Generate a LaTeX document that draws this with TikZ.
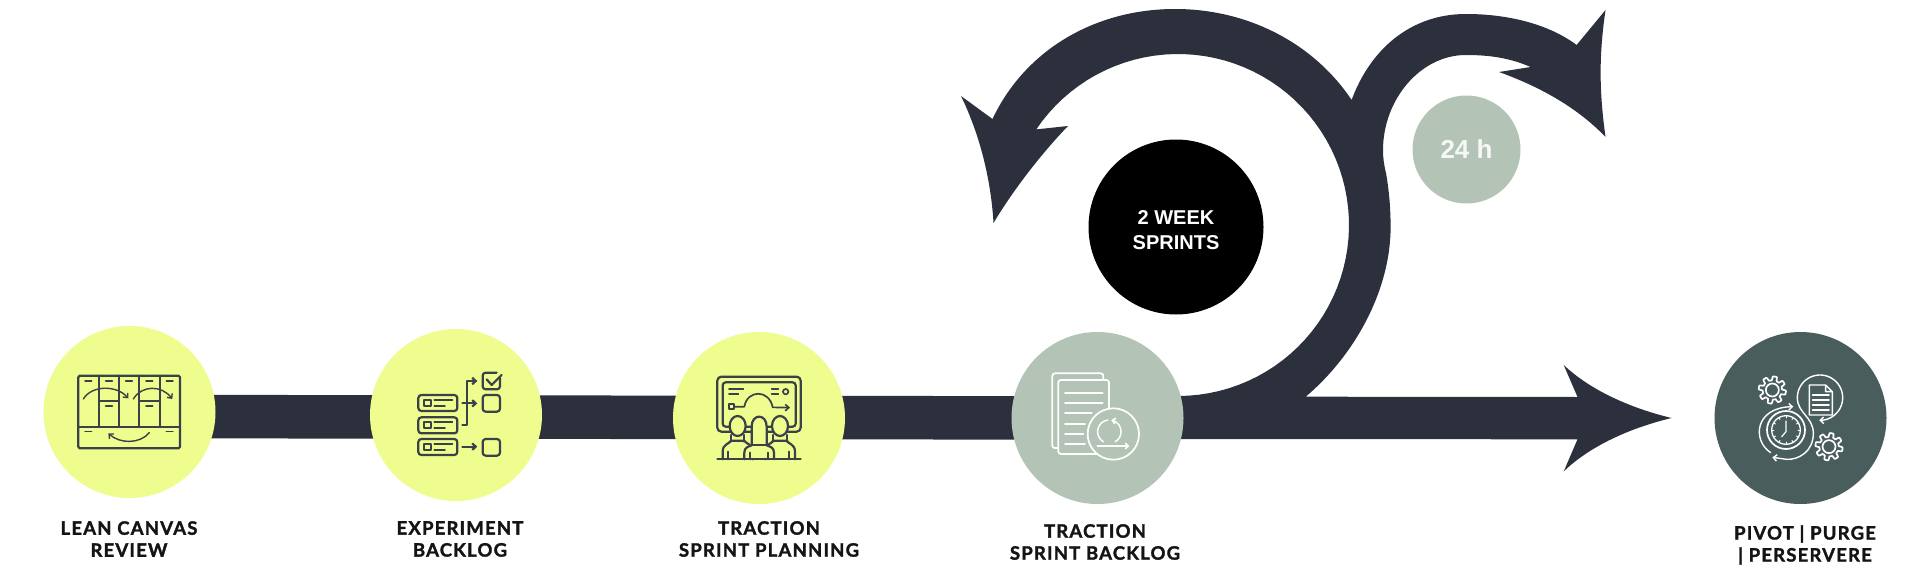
\documentclass[tikz,border=0pt]{standalone}
\usepackage{fontspec}
\setmainfont{Liberation Sans}
\newfontfamily\lblfont[LetterSpace=6.5,BoldFeatures={FakeBold=1.6}]{Lato}
\usetikzlibrary{arrows.meta}
\definecolor{inkbar}{HTML}{2B303C}
\definecolor{limec}{HTML}{EEFD8E}
\definecolor{sagec}{HTML}{B3C4B7}
\definecolor{tealc}{HTML}{4A5D5D}
\definecolor{iconink}{HTML}{3A4148}
\tikzset{
  disc/.style={circle,inner sep=0pt,minimum size=172pt},
  lbl/.style={align=center,inner sep=0pt,text=black!92,font=\lblfont\bfseries\fontsize{18.5}{22}\selectfont},
  icon/.style={x=0.33333pt,y=-0.33333pt,line join=round,line cap=round},
  ic/.style={draw=iconink,line width=2.2pt},
  icthin/.style={draw=iconink,line width=1.4pt},
  wh/.style={draw=white,line width=1.7pt},
  whthin/.style={draw=white,line width=1.2pt},
  tipd/.style={-{Straight Barb[length=3.5pt,width=6.5pt]}},
}
\newcommand{\gearicon}[2]{%
  \draw[wh] plot[domain=0:360,samples=145]
   ({#1+(35+6*max(-1,min(1,2.5*sin(8*\x))))*cos(\x)},{#2+(35+6*max(-1,min(1,2.5*sin(8*\x))))*sin(\x)}) -- cycle;
  \draw[wh] (#1,#2) circle[radius=6.5pt];}
\begin{document}
\begin{tikzpicture}[x=1pt,y=-1pt]
\path[fill=white,use as bounding box] (0,0) rectangle (1920,586);
% main spiral and arrow
\fill[inkbar] (1097,397) -- (1182,396)
  -- plot[domain=90:-146,samples=70] ({1178+171*cos(\x)},{225+171*sin(\x)})
  -- (1068,126) .. controls (1040,155) and (1012,192) .. (993.5,223)
  .. controls (991,180) and (980,135) .. (961,96)
  -- (992.5,119)
  .. controls (1025,50) and (1095,9) .. (1175,9)
  .. controls (1250,9) and (1315,45) .. (1351.6,100)
  .. controls (1370,50) and (1410,14) .. (1466,14)
  .. controls (1510,14) and (1550,25) .. (1576.6,45)
  -- (1605.5,10) .. controls (1599,55) and (1599,90) .. (1605.5,137)
  .. controls (1575,105) and (1535,85) .. (1499,72)
  -- (1530.6,67)
  .. controls (1510,58) and (1490,55) .. (1466,55)
  .. controls (1420,55) and (1383,100) .. (1383,150)
  .. controls (1383,158) and (1384,165) .. (1386,173)
  .. controls (1389,190) and (1390.6,208) .. (1390.6,227)
  .. controls (1390.6,290) and (1355,355) .. (1305.7,396.7)
  -- (1577.5,397) -- (1563.7,365)
  .. controls (1590,390) and (1630,408) .. (1671.5,418)
  .. controls (1630,428) and (1590,446) .. (1563.7,471.4)
  -- (1577.5,439.3) -- (1097,439) -- cycle;
% bar between the steps
\coordinate (barA) at (129,416.5);
\coordinate (barB) at (1097,418);
\draw[inkbar,line width=43.5pt] (barA) -- (barB);
% discs
\node[disc,fill=limec] (lean) at (129.5,412) {};
\node[disc,fill=limec] (experiment) at (456,415) {};
\node[disc,fill=limec] (planning) at (759,418) {};
\node[disc,fill=sagec] (backlog) at (1097.5,418) {};
\node[disc,fill=tealc] (pivot) at (1800.5,418) {};
\node[circle,inner sep=0pt,minimum size=108pt,fill=sagec,text=white!88!sagec,font=\bfseries\fontsize{26}{30}\selectfont] (day) at (1466.5,149.5) {24 h};
\node[circle,inner sep=0pt,minimum size=175pt,fill=black] (sprint) at (1176,227) {};
\node[text=white,inner sep=0pt,align=center,font=\bfseries\fontsize{20}{25}\selectfont] (sprinttext) at (1176,230.5) {2 WEEK\\SPRINTS};
% labels
\node[lbl] (t1) at (129,539) {LEAN CANVAS\\REVIEW};
\node[lbl] (t2) at (460,539) {EXPERIMENT\\BACKLOG};
\node[lbl] (t3) at (769,539) {TRACTION\\SPRINT PLANNING};
\node[lbl] (t4) at (1095,542) {TRACTION\\SPRINT BACKLOG};
\node[lbl] (t5) at (1805,545) {PIVOT | PURGE\\| PERSERVERE};
% icon 1
\begin{scope}[icon,xshift=20pt,yshift=-320pt]
\draw[ic,rounded corners=1.5pt] (175,167) rectangle (480,385);
\draw[ic] (237,167)--(237,320) (297,167)--(297,320) (358,167)--(358,320) (419,167)--(419,320)
  (175,320)--(480,320) (237,243)--(297,243) (358,243)--(419,243);
\foreach \d in {205,267,327,388,449} \draw[ic,line width=1.5pt] (\d-10,183)--(\d+10,183);
\draw[ic,line width=1.5pt] (257,258)--(277,258) (378,258)--(398,258) (195,335)--(215,335) (439,335)--(459,335);
\draw[icthin,tipd] (190,237) .. controls (215,195) and (290,195) .. (325,235);
\draw[icthin,tipd] (340,237) .. controls (365,195) and (425,195) .. (457,237);
\draw[icthin,tipd] (388,338) .. controls (360,372) and (300,372) .. (265,340);
\end{scope}
% icon 2
\begin{scope}[icon,xshift=350pt,yshift=-320pt]
\foreach \r in {249,316,381}{
  \draw[ic,rounded corners=3pt] (205,\r-24) rectangle (322,\r+24);
  \draw[icthin,line width=1.7pt] (222,\r-9) rectangle (242,\r+9);
  \draw[icthin,line width=1.7pt] (253,\r-9)--(307,\r-9) (253,\r+9)--(285,\r+9);}
\draw[ic,rounded corners=3pt] (398,225) rectangle (450,275);
\draw[ic,rounded corners=3pt] (398,357) rectangle (450,407);
\draw[ic,rounded corners=3pt] (450,175)--(450,208)--(398,208)--(398,158)--(440,158);
\draw[ic] (410,178)--(425,195)--(455,165);
\draw[ic,tipd] (337,315)--(352,315)--(352,183)--(382,183);
\draw[ic,tipd] (337,250)--(382,250);
\draw[ic,tipd] (337,380)--(382,380);
\end{scope}
% icon 3
\begin{scope}[icon,xshift=350pt,yshift=-320pt]
\draw[ic,rounded corners=4pt] (1102,170) rectangle (1352,335);
\draw[ic,rounded corners=3pt] (1118,187) rectangle (1337,320);
\draw[icthin,line width=1.7pt] (1137,207)--(1180,207) (1137,222)--(1165,222) (1265,207)--(1285,207) (1265,222)--(1285,222);
\draw[icthin,line width=1.7pt] (1307,215) circle[radius=2.7pt];
\draw[icthin,line width=1.7pt] (1137,253) rectangle (1153,268);
\draw[ic,line width=1.7pt,tipd] (1153,260)--(1183,260) .. controls (1192,208) and (1258,208) .. (1268,262)--(1320,263);
% side people
\foreach \c in {1163,1290}{
  \draw[ic,fill=limec] (\c-45,418)--(\c-45,395) .. controls (\c-45,372) and (\c-25,372) .. (\c-20,362)
    -- (\c+20,362) .. controls (\c+25,372) and (\c+45,372) .. (\c+45,395) -- (\c+45,418);
  \draw[ic,fill=limec] (\c,318) ellipse[x radius=8pt,y radius=10pt];
  \draw[ic] (\c-20,345)--(\c-20,365) (\c+20,345)--(\c+20,365);}
\draw[ic] (1135,418)--(1135,395) (1318,418)--(1318,395);
% centre person
\draw[ic,fill=limec] (1183,418)--(1183,398) .. controls (1183,382) and (1195,380) .. (1205,376)
   -- (1205,320) .. controls (1205,280) and (1250,280) .. (1250,320) -- (1250,376)
   .. controls (1260,380) and (1272,382) .. (1272,398) -- (1272,418);
\draw[ic] (1205,376)--(1250,376) (1200,418)--(1200,398) (1255,418)--(1255,398);
\draw[ic] (1102,418)--(1352,418);
\end{scope}
% icon 4
\begin{scope}[icon,xshift=990pt,yshift=-320pt]
\draw[wh,rounded corners=2.5pt] (205,384)--(187,384)--(187,160)--(340,160)--(340,180);
\draw[wh,rounded corners=2.5pt] (205,180) rectangle (357,402);
\foreach \l/\e in {218/338,250/338,280/305,312/285,342/280,373/285}
  \draw[wh] (225,\l)--(\e,\l);
\draw[wh,fill=sagec] (370,342) circle[radius=25.7pt];
\draw[whthin,line width=1.5pt] plot[domain=120:262,samples=30] ({358+35*cos(\x)},{335+35*sin(\x)});
\draw[whthin,line width=1.5pt,-{Straight Barb[length=3pt,width=6pt]}] plot[domain=60:-80,samples=30] ({358+35*cos(\x)},{335+35*sin(\x)});
\draw[whthin,line width=1.5pt,-{Straight Barb[length=3pt,width=6pt]}] (322,378)--(418,378);
\end{scope}
% icon 5
\begin{scope}[icon,xshift=1680pt,yshift=-320pt]
\gearicon{277}{210}
\gearicon{447}{380}
\draw[wh,line width=1.4pt] (388,195)--(437,195)--(457,215)--(457,285)--(388,285)--cycle (437,195)--(437,215)--(457,215);
\foreach \l in {225,240,255,270} \draw[wh,line width=1.8pt] (398,\l)--(447,\l);
\draw[wh,line width=1.4pt,tipd] plot[domain=180:452,samples=50] ({420+68*cos(\x)},{233+68*sin(\x)});
\draw[wh,line width=1.4pt,tipd] (352,233) .. controls (352,280) and (400,290) .. (400,340) .. controls (400,395) and (355,420) .. (320,418) -- (277,412);
\draw[wh,line width=1.4pt,tipd] (272,398) .. controls (215,360) and (225,262) .. (340,260);
\draw[wh] (318,330) circle[radius=19pt];
\draw[wh,line width=1.3pt] (318,330) circle[radius=14.3pt];
\draw[whthin] (318,303)--(318,335)--(305,350);
\foreach \a in {0,30,...,330} \draw[white,line width=.9pt] ({318+36*cos(\a)},{330+36*sin(\a)})--({318+42*cos(\a)},{330+42*sin(\a)});
\end{scope}
\end{tikzpicture}
\end{document}
